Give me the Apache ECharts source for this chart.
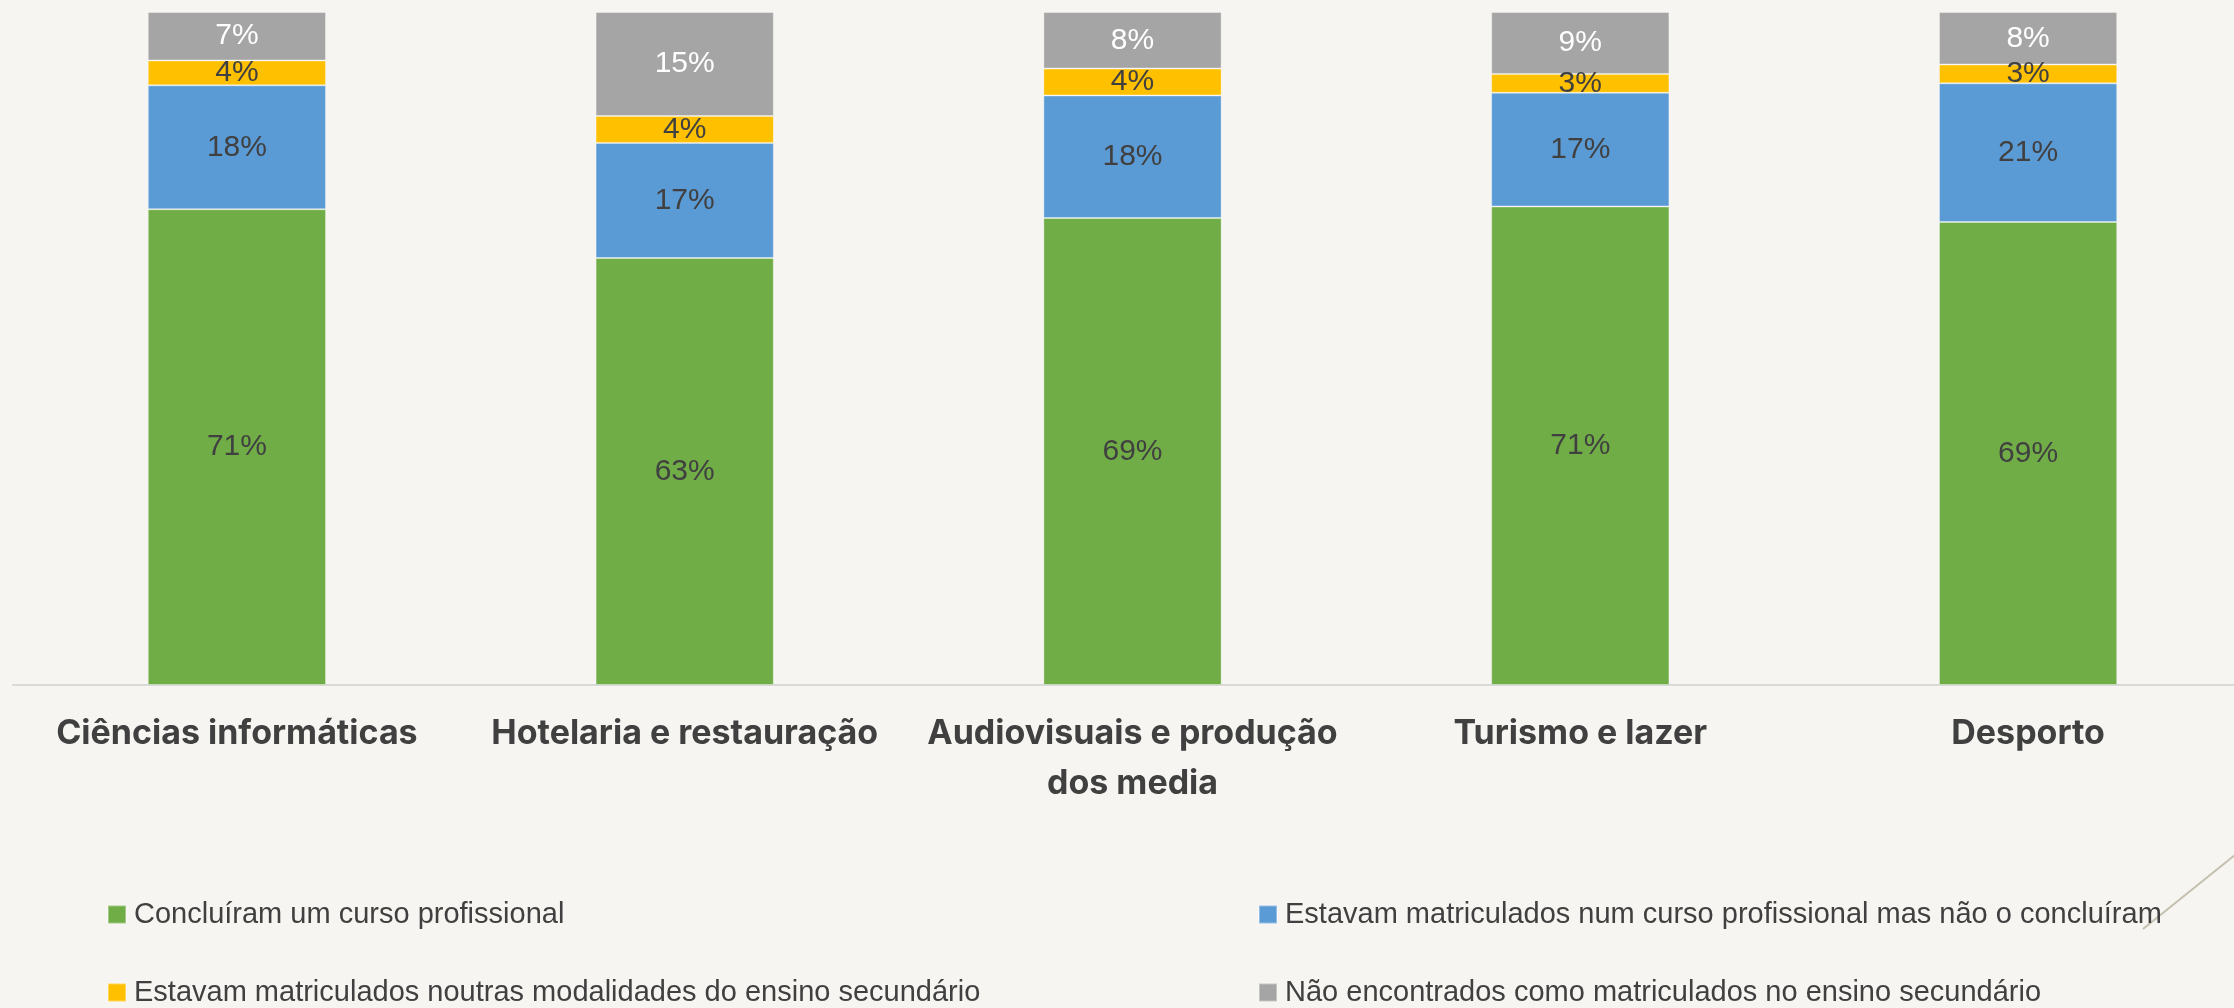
<!DOCTYPE html>
<html>
<head>
<meta charset="utf-8">
<script src="https://cdn.jsdelivr.net/npm/echarts@6/dist/echarts.min.js"></script>
<style>
html,body{margin:0;padding:0;background:#f6f5f1;}
#chart{width:2234px;height:1008px;}
</style>
</head>
<body>
<div id="chart"></div>
<script>
const categories = ['Ciências informáticas', 'Hotelaria e restauração', 'Audiovisuais e produção\ndos media', 'Turismo e lazer', 'Desporto'];
const seriesNames = [
  'Concluíram um curso profissional',
  'Estavam matriculados num curso profissional mas não o concluíram',
  'Estavam matriculados noutras modalidades do ensino secundário',
  'Não encontrados como matriculados no ensino secundário'
];
const concluiram = [70.7, 63.45, 69.4, 71.1, 68.8];
const naoConcluiram = [18.4, 17.1, 18.2, 16.9, 20.6];
const outrasModalidades = [3.7, 4.0, 4.0, 2.8, 2.8];
const naoEncontrados = [7.2, 15.45, 8.4, 9.2, 7.8];

const colors = ['#70ad47', '#5b9bd5', '#ffc000', '#a5a5a5'];
const labelColors = ['#404040', '#404040', '#404040', '#ffffff'];
const values = [concluiram, naoConcluiram, outrasModalidades, naoEncontrados];

const legendPos = [
  { left: 107, top: 900 },
  { left: 1258, top: 900 },
  { left: 107, top: 978 },
  { left: 1258, top: 978 }
];

const chart = echarts.init(document.getElementById('chart'));
chart.setOption({
  backgroundColor: '#f6f5f1',
  animation: false,
  grid: { left: 13, width: 2239, top: 12, bottom: 323, containLabel: false, outerBoundsMode: 'none' },
  xAxis: {
    type: 'category',
    data: categories,
    axisLine: { lineStyle: { color: '#d9d9d9', width: 2 } },
    axisTick: { show: false },
    axisLabel: {
      interval: 0,
      margin: 24,
      color: '#404040',
      fontFamily: 'Inter',
      fontWeight: 700,
      fontSize: 34,
      lineHeight: 50
    }
  },
  yAxis: {
    type: 'value', min: 0, max: 100,
    show: false,
    splitLine: { show: false }
  },
  legend: seriesNames.map((n, i) => ({
    data: [n],
    left: legendPos[i].left, top: legendPos[i].top,
    padding: 0,
    itemWidth: 18, itemHeight: 18,
    icon: 'rect',
    textStyle: { color: '#404040', fontSize: 29, fontFamily: 'Liberation Sans', padding: [0, 0, 0, 3] },
    selectedMode: false
  })),
  graphic: [
    {
      type: 'line',
      shape: { x1: 2143, y1: 929, x2: 2240, y2: 851 },
      style: { stroke: '#c4bfae', lineWidth: 2 },
      silent: true
    }
  ],
  series: values.map((vals, i) => ({
    name: seriesNames[i],
    type: 'bar',
    stack: 'total',
    barWidth: '39.8%',
    data: vals,
    itemStyle: { color: colors[i], borderColor: 'rgba(255,255,255,0.35)', borderWidth: 1 },
    label: {
      show: true,
      position: 'inside',
      color: labelColors[i],
      fontFamily: 'Liberation Sans',
      fontSize: 30,
      formatter: p => Math.round(p.value) + '%'
    }
  }))
});
</script>
</body>
</html>
